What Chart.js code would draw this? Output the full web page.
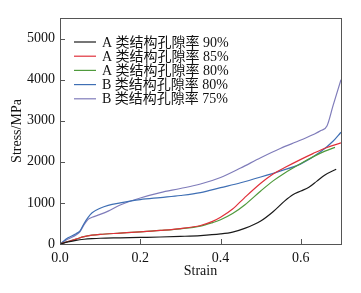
<!DOCTYPE html>
<html>
<head>
<meta charset="utf-8">
<script src="https://cdn.jsdelivr.net/npm/chart.js@4"></script>
<style>
  html, body { margin: 0; padding: 0; background: #fff; }
  #wrap { width: 361px; height: 293px; }
</style>
</head>
<body>
<div id="wrap"><canvas id="chart" width="361" height="293"></canvas></div>
<script>
// series labels
const seriesLabels = [
  'A 类结构孔隙率 90%',
  'A 类结构孔隙率 85%',
  'A 类结构孔隙率 80%',
  'B 类结构孔隙率 80%',
  'B 类结构孔隙率 75%'
];
const seriesColors = ['#1a1a1a', '#e0303a', '#4f9a3c', '#3f6fb4', '#7f7cba'];

// strain (x) and stress (y) per curve
const strainA90 = [0, 0.02, 0.04, 0.06, 0.08, 0.1, 0.15, 0.2, 0.25, 0.3, 0.35, 0.4, 0.43, 0.46, 0.5, 0.53, 0.56, 0.58, 0.6, 0.62, 0.64, 0.66, 0.688];
const stressA90 = [0, 50, 90, 115, 130, 140, 150, 160, 170, 185, 205, 245, 290, 380, 560, 780, 1050, 1200, 1290, 1380, 1530, 1680, 1820];

const strainA85 = [0, 0.02, 0.04, 0.06, 0.08, 0.1, 0.15, 0.2, 0.25, 0.3, 0.35, 0.38, 0.4, 0.43, 0.46, 0.5, 0.53, 0.56, 0.6, 0.63, 0.66, 0.7];
const stressA85 = [0, 60, 120, 180, 215, 235, 265, 295, 330, 375, 450, 550, 650, 850, 1130, 1480, 1700, 1860, 2060, 2200, 2330, 2460];

const strainA80 = [0, 0.02, 0.04, 0.06, 0.08, 0.1, 0.15, 0.2, 0.25, 0.3, 0.35, 0.38, 0.4, 0.43, 0.46, 0.5, 0.53, 0.56, 0.6, 0.63, 0.66, 0.685];
const stressA80 = [0, 60, 120, 180, 215, 235, 265, 295, 330, 370, 435, 520, 590, 740, 950, 1290, 1530, 1730, 1960, 2120, 2260, 2350];

const strainB80 = [0, 0.02, 0.04, 0.05, 0.06, 0.07, 0.08, 0.1, 0.12, 0.15, 0.2, 0.25, 0.3, 0.35, 0.4, 0.45, 0.5, 0.55, 0.6, 0.65, 0.68, 0.7];
const stressB80 = [0, 150, 250, 320, 500, 650, 760, 870, 940, 1000, 1080, 1130, 1180, 1250, 1370, 1490, 1630, 1780, 1950, 2250, 2500, 2720];

const strainB75 = [0, 0.02, 0.04, 0.05, 0.06, 0.07, 0.08, 0.1, 0.12, 0.15, 0.2, 0.25, 0.3, 0.35, 0.4, 0.45, 0.5, 0.55, 0.6, 0.65, 0.665, 0.68, 0.7];
const stressB75 = [0, 120, 220, 300, 470, 600, 650, 720, 800, 950, 1120, 1250, 1350, 1460, 1620, 1850, 2100, 2330, 2530, 2760, 2870, 3360, 4000];

const strainSets = [strainA90, strainA85, strainA80, strainB80, strainB75];
const stressSets = [stressA90, stressA85, stressA80, stressB80, stressB75];

// axis ticks
const xTicks = [0, 0.2, 0.4, 0.6];
const yTicks = [0, 1000, 2000, 3000, 4000, 5000];

const serif = '"Liberation Serif", "Times New Roman", serif';
const cjk = '"Liberation Serif", "Noto Sans CJK SC", serif';

const datasets = seriesLabels.map((label, i) => ({
  label: label,
  data: strainSets[i].map((x, j) => ({ x: x, y: stressSets[i][j] })),
  borderColor: seriesColors[i],
  borderWidth: 1.2,
  pointRadius: 0,
  fill: false,
  cubicInterpolationMode: 'monotone'
}));

// frame, inward ticks and legend inside the plot
const framePlugin = {
  id: 'frame',
  afterDatasetsDraw(chart) {
    const { ctx, chartArea: a, scales } = chart;
    ctx.save();
    ctx.strokeStyle = '#555';
    ctx.lineWidth = 1;
    ctx.strokeRect(a.left + 0.5, a.top + 0.5, a.right - a.left, a.bottom - a.top);
    ctx.beginPath();
    xTicks.forEach(v => {
      const px = Math.round(scales.x.getPixelForValue(v)) + 0.5;
      ctx.moveTo(px, a.bottom);
      ctx.lineTo(px, a.bottom - 5);
    });
    yTicks.forEach(v => {
      const py = Math.round(scales.y.getPixelForValue(v)) + 0.5;
      ctx.moveTo(a.left, py);
      ctx.lineTo(a.left + 5, py);
    });
    ctx.stroke();

    // legend
    ctx.font = '14px ' + cjk;
    ctx.textBaseline = 'middle';
    ctx.fillStyle = '#111';
    chart.data.datasets.forEach((ds, i) => {
      const y = 42 + i * 14.2;
      ctx.strokeStyle = ds.borderColor;
      ctx.lineWidth = 1.2;
      ctx.beginPath();
      ctx.moveTo(74, y);
      ctx.lineTo(96, y);
      ctx.stroke();
      ctx.fillText(ds.label, 102, y + 1);
    });
    ctx.restore();
  }
};

new Chart(document.getElementById('chart'), {
  type: 'line',
  data: { datasets: datasets },
  plugins: [framePlugin],
  options: {
    responsive: false,
    animation: false,
    layout: { padding: { top: 18, right: 20, left: 9, bottom: 13 } },
    plugins: {
      legend: { display: false },
      tooltip: { enabled: false }
    },
    scales: {
      x: {
        type: 'linear',
        min: 0,
        max: 0.7,
        afterBuildTicks: s => { s.ticks = xTicks.map(v => ({ value: v })); },
        afterFit: s => { s.height = 36; },
        grid: { display: false, drawTicks: false },
        border: { display: false },
        ticks: {
          color: '#111',
          padding: 6,
          font: { family: serif, size: 14 },
          callback: v => v.toFixed(1)
        },
        title: {
          display: true,
          text: 'Strain',
          color: '#111',
          padding: { top: 0, bottom: 0 },
          font: { family: serif, size: 14 }
        }
      },
      y: {
        min: 0,
        max: 5500,
        afterBuildTicks: s => { s.ticks = yTicks.map(v => ({ value: v })); },
        afterFit: s => { s.width = 51; },
        grid: { display: false, drawTicks: false },
        border: { display: false },
        ticks: {
          color: '#111',
          padding: 5,
          font: { family: serif, size: 14 },
          callback: v => String(v)
        },
        title: {
          display: true,
          text: 'Stress/MPa',
          color: '#111',
          padding: { top: 0, bottom: 0 },
          font: { family: serif, size: 14 }
        }
      }
    }
  }
});
</script>
</body>
</html>
